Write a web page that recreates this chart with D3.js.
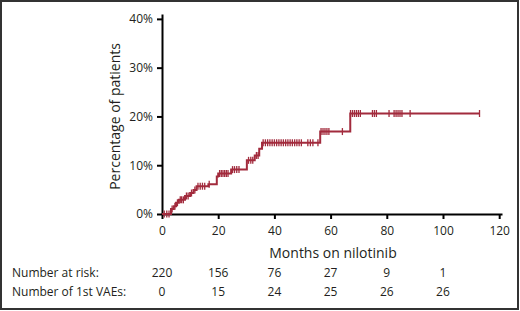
<!DOCTYPE html>
<html>
<head>
<meta charset="utf-8">
<script src="https://cdn.jsdelivr.net/npm/d3@7"></script>
<style>
  body { margin: 0; background: #fff; }
  svg text { font-family: "Open Sans", "Noto Sans", sans-serif; fill: #231f20; }
</style>
</head>
<body>
<div id="chart"></div>
<script>
// step times (months) and cumulative % of patients with a 1st VAE
const stepMonths = [0, 3.2, 4.2, 5.0, 6.0, 8.2, 10.0, 11.2, 12.3, 16.5, 19.5, 20.0, 24.6, 30.2, 33.0, 34.6, 35.6, 56.3, 67.0];
const stepPct    = [0, 1.0, 1.6, 2.3, 2.9, 3.7, 4.3, 4.9, 5.7, 6.1, 7.7, 8.3, 9.1, 11.0, 12.0, 13.4, 14.6, 16.9, 20.6];
const lastFollowUp = 113;

// censored observations (months)
const censorMonths = [0.8, 1.7, 2.5, 3.6, 4.6, 5.5, 6.5, 7.0, 7.6, 8.7, 9.3, 10.5, 11.7, 12.8, 13.6, 14.4, 15.2, 16.8,
  20.5, 21.1, 21.7, 22.3, 22.9, 23.5, 25.1, 25.8, 26.6, 27.4, 30.8, 31.6, 32.3, 33.6, 34.2,
  36.0, 36.8, 37.6, 38.4, 39.2, 40.0, 40.8, 41.6, 42.4, 43.2, 44.0, 44.8, 45.6, 46.4, 47.2, 48.0, 48.8, 49.6,
  51.9, 52.8, 53.7, 55.5, 56.6, 57.3, 58.0, 58.7, 59.4, 64.2,
  67.1, 67.8, 68.5, 69.2, 69.9, 70.6, 74.9, 75.6, 76.3, 80.8, 82.6, 83.3, 84.0, 84.7, 85.4, 88.3, 113];

const xTicks = [0, 20, 40, 60, 80, 100, 120];
const yTicks = [0, 10, 20, 30, 40];
const atRisk = [220, 156, 76, 27, 9, 1];
const firstVAEs = [0, 15, 24, 25, 26, 26];

const width = 520, height = 311;
const red = "#a22b3d";

const svg = d3.select("#chart").append("svg")
    .attr("width", width)
    .attr("height", height);

// outer frame
svg.append("rect")
    .attr("x", 1).attr("y", 1)
    .attr("width", 517).attr("height", 308)
    .attr("fill", "none")
    .attr("stroke", "#333")
    .attr("stroke-width", 2);

const x = d3.scaleLinear().domain([0, 121]).range([162, 502]);
const y = d3.scaleLinear().domain([0, 41]).range([214, 14]);

// y axis
const yAxis = svg.append("g")
    .attr("transform", "translate(162,0)")
    .call(d3.axisLeft(y).tickValues(yTicks).tickSize(5).tickSizeOuter(0).tickFormat(d => d + "%"));
yAxis.selectAll("text").attr("font-size", 12).attr("x", -9);

// x axis
const xAxis = svg.append("g")
    .attr("transform", "translate(0,214)")
    .call(d3.axisBottom(x).tickValues(xTicks).tickSize(5).tickSizeOuter(0));
xAxis.selectAll("text").attr("font-size", 12).attr("y", 12);

svg.selectAll(".domain, .tick line")
    .attr("stroke", "#000")
    .attr("stroke-width", 2);

// axis titles
svg.append("text")
    .attr("transform", `translate(120, ${(y(0) + y(40)) / 2}) rotate(-90)`)
    .attr("text-anchor", "middle")
    .attr("font-size", 14)
    .text("Percentage of patients");

svg.append("text")
    .attr("x", 333).attr("y", 258)
    .attr("text-anchor", "middle")
    .attr("font-size", 14)
    .text("Months on nilotinib");

// step curve
const steps = stepMonths.map((m, i) => ({ m: m, p: stepPct[i] }));
steps.push({ m: lastFollowUp, p: stepPct[stepPct.length - 1] });

const pctAt = m => {
    let p = 0;
    steps.forEach(s => { if (s.m <= m) p = s.p; });
    return p;
};

const line = d3.line()
    .x(d => x(d.m))
    .y(d => y(d.p))
    .curve(d3.curveStepAfter);

svg.append("path")
    .datum(steps)
    .attr("d", line)
    .attr("fill", "none")
    .attr("stroke", red)
    .attr("stroke-width", 2);

// censor marks
svg.selectAll(".censor")
    .data(censorMonths)
    .enter()
    .append("line")
    .attr("class", "censor")
    .attr("x1", d => x(d)).attr("x2", d => x(d))
    .attr("y1", d => y(pctAt(d)) - 3.5)
    .attr("y2", d => y(pctAt(d)) + 3.5)
    .attr("stroke", red)
    .attr("stroke-width", 1.3);

// number at risk table
const rows = [
    { label: "Number at risk:", values: atRisk, y: 277 },
    { label: "Number of 1st VAEs:", values: firstVAEs, y: 296 }
];
rows.forEach(r => {
    svg.append("text")
        .attr("x", 12).attr("y", r.y)
        .attr("font-size", 12)
        .text(r.label);
    svg.selectAll(null)
        .data(r.values)
        .enter()
        .append("text")
        .attr("x", (d, i) => x(xTicks[i]))
        .attr("y", r.y)
        .attr("text-anchor", "middle")
        .attr("font-size", 12)
        .text(d => d);
});
</script>
</body>
</html>
